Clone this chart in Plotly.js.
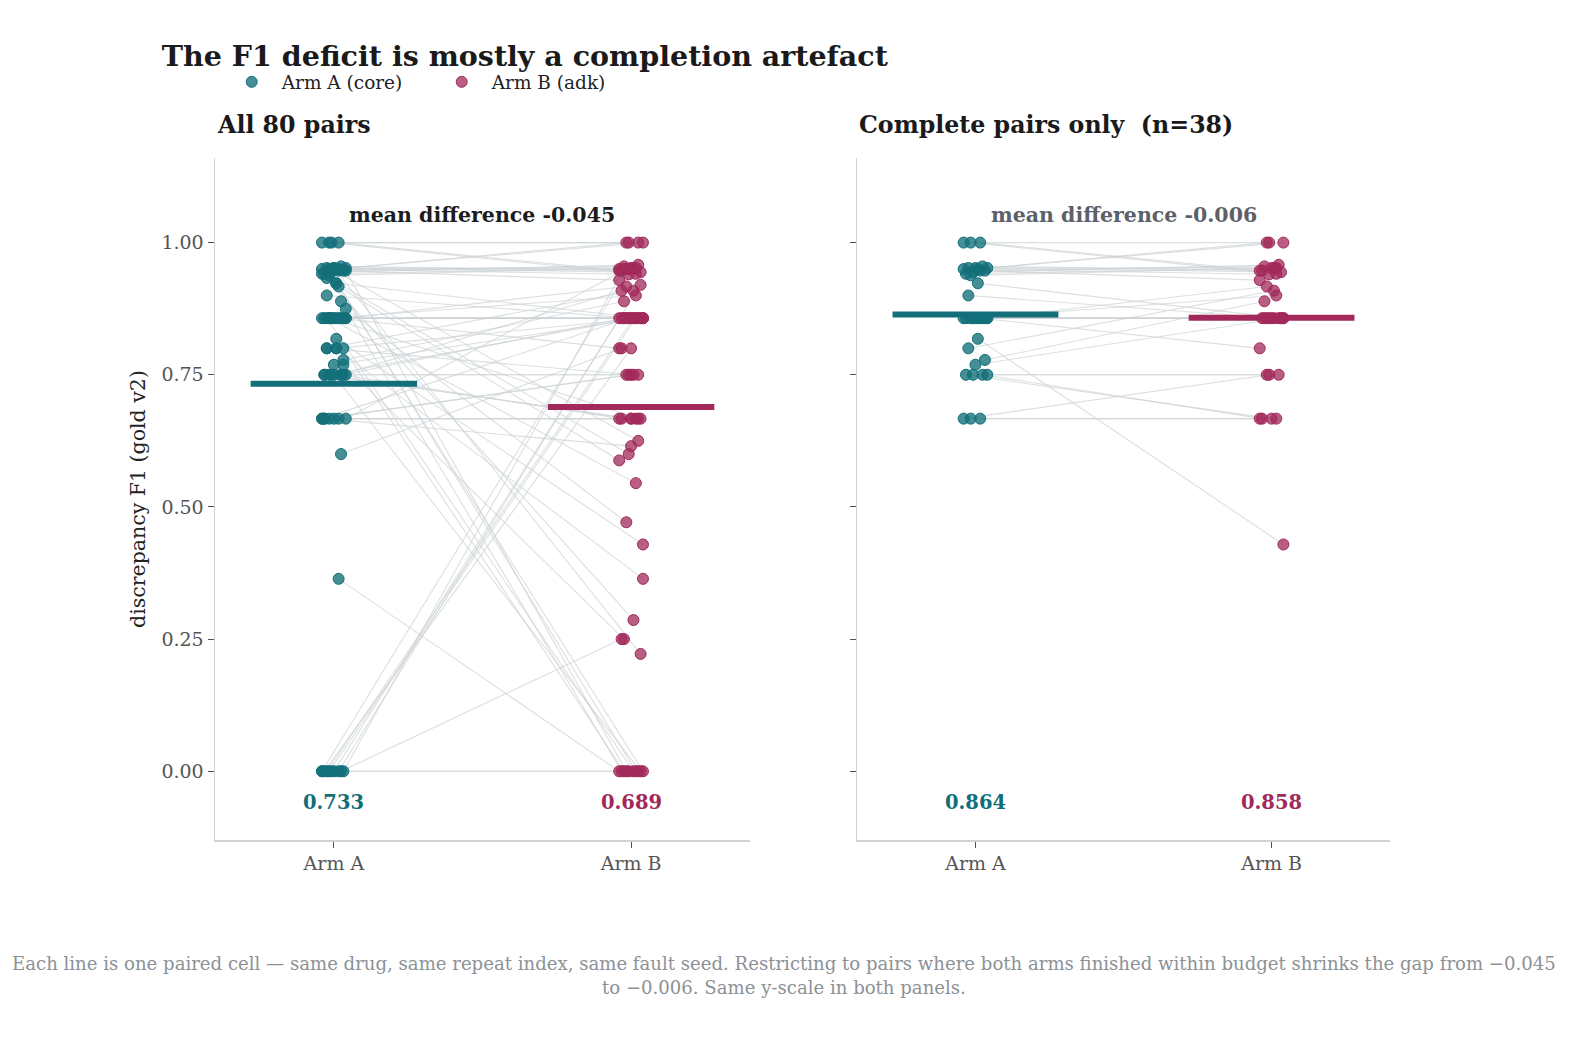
<!DOCTYPE html>
<html>
<head>
<meta charset="utf-8">
<script src="https://cdn.plot.ly/plotly-3.0.1.min.js"></script>
<style>html,body{margin:0;padding:0;background:#fff;overflow:hidden;width:1587px;height:1056px;}#chart{width:1587px;height:1056px;}</style>
</head>
<body>
<div id="chart"></div>
<script>
// ---------- data ----------
const CATEGORIES = ['Arm A', 'Arm B'];
const SERIES_NAMES = ['Arm A (core)', 'Arm B (adk)'];
const PANEL_TITLES = ['All 80 pairs', 'Complete pairs only  (n=38)'];

// pairs where both arms finished within budget (n=38)
const complete_A = [1.0,1.0,1.0,0.952,0.95,0.952,0.947,0.952,0.941,0.955,0.944,0.95,0.947,0.938,0.857,0.923,0.9,
  0.857,0.857,0.857,0.857,0.857,0.857,0.857,0.857,0.857,0.818,0.8,0.778,0.769,0.75,0.75,0.75,0.667,0.667,0.667,0.75,0.857];
const complete_B = [1.0,0.947,0.941,1.0,1.0,0.952,0.955,0.944,0.952,0.947,0.958,0.94,0.929,0.952,0.917,0.857,0.857,
  0.857,0.857,0.857,0.857,0.857,0.857,0.8,0.9,0.857,0.429,0.909,0.889,0.857,0.667,0.667,0.75,0.75,0.667,0.667,0.75,0.857];

// remaining pairs (at least one arm incomplete, n=42)
const incomplete_A = [0,0,0,0,0,0,0,0.364,0.95,0.947,0.923,0.857,0.8,0.75,0.667,0.889,0.95,0.941,0.917,0.857,0.875,
  0.8,0.933,0.769,0.952,0.667,0.6,1.0,0.667,0.95,0.75,0.667,0.8,0.8,0.75,0.667,0.75,0.75,0.857,0,0,0];
const incomplete_B = [0.857,0.95,0.92,0.8,0.25,0,0,0,0,0,0,0,0,0,0.75,0,0.625,0.6,0.588,0.545,0.471,
  0.364,0.286,0.25,0.222,0.615,0.8,1.0,0.857,0.95,0.857,0.95,0.857,0.75,0.857,0.667,0.667,0.909,0.667,0.95,0.857,0.857];

const MEANS_ALL = [0.733, 0.689];
const MEANS_COMPLETE = [0.864, 0.858];
const MEAN_DIFF = ['-0.045', '-0.006'];
const Y_TICKS = [0, 0.25, 0.5, 0.75, 1.0];
const Y_TICK_LABELS = ['0.00', '0.25', '0.50', '0.75', '1.00'];
const CAPTION = 'Each line is one paired cell \u2014 same drug, same repeat index, same fault seed. Restricting to pairs where both arms finished within budget shrinks the gap from \u22120.045<br>to \u22120.006. Same y-scale in both panels.';

// ---------- styling ----------
const FONT = 'DejaVu Serif, Liberation Serif, serif';
const TEAL = '#126f7a';
const CRIMSON = '#a2295a';
const TEAL_FILL = 'rgba(18,111,122,0.78)';
const CRIMSON_FILL = 'rgba(162,41,90,0.75)';
const LINE_GREY = 'rgba(205,210,214,0.72)';

function jit(i, k) { // deterministic horizontal spread of dots
  const v = ((i * 7 + k * 3) % 11) - 5;
  return v / 5 * 0.04;
}

const allA = complete_A.concat(incomplete_A);
const allB = complete_B.concat(incomplete_B);

const traces = [];
function panel(A, B, means, xa, ya, showLegend) {
  const lx = [], ly = [];
  const ax = [], bx = [];
  for (let i = 0; i < A.length; i++) {
    const xA = 0 + jit(i, 0), xB = 1 + jit(i, 5);
    ax.push(xA); bx.push(xB);
    lx.push(xA, xB, null); ly.push(A[i], B[i], null);
  }
  traces.push({type: 'scatter', mode: 'lines', x: lx, y: ly, xaxis: xa, yaxis: ya,
    line: {color: LINE_GREY, width: 1.1}, hoverinfo: 'skip', showlegend: false});
  traces.push({type: 'scatter', mode: 'markers', x: ax, y: A, xaxis: xa, yaxis: ya, name: SERIES_NAMES[0],
    legendgroup: 'a', showlegend: showLegend,
    marker: {size: 11, color: TEAL_FILL, line: {color: TEAL, width: 1}}});
  traces.push({type: 'scatter', mode: 'markers', x: bx, y: B, xaxis: xa, yaxis: ya, name: SERIES_NAMES[1],
    legendgroup: 'b', showlegend: showLegend,
    marker: {size: 11, color: CRIMSON_FILL, line: {color: CRIMSON, width: 1}}});
  traces.push({type: 'scatter', mode: 'lines', x: [-0.28, 0.28], y: [means[0], means[0]], xaxis: xa, yaxis: ya,
    line: {color: TEAL, width: 6}, showlegend: false, hoverinfo: 'skip'});
  traces.push({type: 'scatter', mode: 'lines', x: [0.72, 1.28], y: [means[1], means[1]], xaxis: xa, yaxis: ya,
    line: {color: CRIMSON, width: 6}, showlegend: false, hoverinfo: 'skip'});
}
panel(allA, allB, MEANS_ALL, 'x', 'y', true);
panel(complete_A, complete_B, MEANS_COMPLETE, 'x2', 'y2', false);

const xBase = {range: [-0.4, 1.4], tickvals: [0, 1], ticktext: CATEGORIES, showgrid: false, zeroline: false,
  showline: true, linecolor: '#d0d3d6', linewidth: 1.5, ticks: 'outside', ticklen: 6, tickcolor: '#555',
  tickfont: {family: FONT, size: 19, color: '#555'}, fixedrange: true};
const yBase = {range: [-0.13, 1.16], tickvals: Y_TICKS, ticktext: Y_TICK_LABELS, showgrid: false, zeroline: false,
  showline: true, linecolor: '#d0d3d6', linewidth: 1.5, ticks: 'outside', ticklen: 6, tickcolor: '#555',
  tickfont: {family: FONT, size: 19, color: '#555'}, fixedrange: true};

const annotations = [];
function panelAnn(xr, yr, means, diff, diffColor) {
  annotations.push({xref: xr, yref: yr, x: 0, y: -0.06, text: '<b>' + means[0].toFixed(3) + '</b>', showarrow: false,
    font: {family: FONT, size: 19.5, color: TEAL}});
  annotations.push({xref: xr, yref: yr, x: 1, y: -0.06, text: '<b>' + means[1].toFixed(3) + '</b>', showarrow: false,
    font: {family: FONT, size: 19.5, color: CRIMSON}});
  annotations.push({xref: xr, yref: yr, x: 0.5, y: 1.053, text: '<b>mean difference ' + diff + '</b>', showarrow: false,
    font: {family: FONT, size: 20.5, color: diffColor}});
}
panelAnn('x', 'y', MEANS_ALL, MEAN_DIFF[0], '#1c1c1c');
panelAnn('x2', 'y2', MEANS_COMPLETE, MEAN_DIFF[1], '#5c6168');
annotations.push({xref: 'paper', yref: 'paper', x: 0, y: 1.048, xanchor: 'left', yanchor: 'middle',
  text: '<b>' + PANEL_TITLES[0] + '</b>', showarrow: false, font: {family: FONT, size: 23.7, color: '#1a1a1a'}});
annotations.push({xref: 'paper', yref: 'paper', x: 0.5464, y: 1.048, xanchor: 'left', yanchor: 'middle',
  text: '<b>' + PANEL_TITLES[1] + '</b>', showarrow: false, font: {family: FONT, size: 23.7, color: '#1a1a1a'}});
annotations.push({xref: 'paper', yref: 'paper', x: 0.4843, y: -0.1994, xanchor: 'center', yanchor: 'middle',
  text: CAPTION, showarrow: false, font: {family: FONT, size: 18.1, color: '#8c9196'}});

const layout = {
  width: 1587, height: 1056,
  paper_bgcolor: '#fff', plot_bgcolor: '#fff',
  margin: {l: 215, r: 197, t: 158, b: 216},
  font: {family: FONT, color: '#333'},
  title: {text: '<b>The F1 deficit is mostly a completion artefact</b>', xref: 'container', x: 0.102, xanchor: 'left',
    yref: 'container', y: 0.947, yanchor: 'middle', font: {family: FONT, size: 28.5, color: '#1a1a1a'}},
  showlegend: true,
  legend: {orientation: 'h', x: 0.0057, xanchor: 'left', y: 1.111, yanchor: 'middle',
    font: {family: FONT, size: 18.5, color: '#222'}, bgcolor: 'rgba(0,0,0,0)',
    itemwidth: 50, entrywidth: 145, entrywidthmode: 'pixels'},
  xaxis: Object.assign({}, xBase, {domain: [0, 0.4553], anchor: 'y'}),
  yaxis: Object.assign({}, yBase, {domain: [0, 1], anchor: 'x',
    title: {text: 'discrepancy F1 (gold v2)', standoff: 10, font: {family: FONT, size: 20.5, color: '#222'}}}),
  xaxis2: Object.assign({}, xBase, {domain: [0.5464, 1], anchor: 'y2'}),
  yaxis2: Object.assign({}, yBase, {domain: [0, 1], anchor: 'x2', showticklabels: false}),
  annotations: annotations
};

Plotly.newPlot('chart', traces, layout, {displayModeBar: false, staticPlot: true});
</script>
</body>
</html>
